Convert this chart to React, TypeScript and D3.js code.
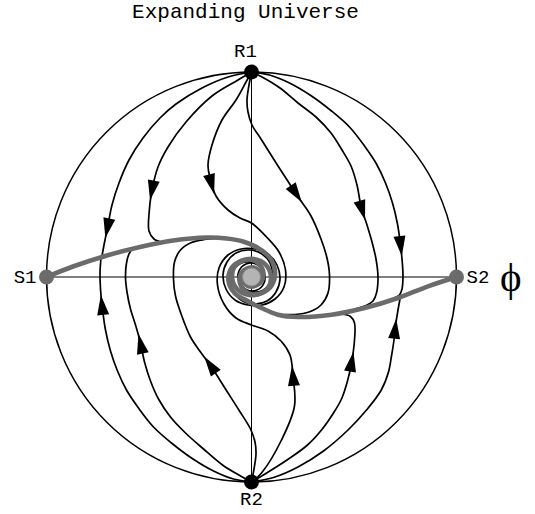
import React, { useEffect, useRef } from "react";
import * as d3 from "d3";

type Pt = [number, number];

const WIDTH = 535;
const HEIGHT = 514;
const TITLE = "Expanding Universe";
const AXIS_LABEL = "\u03D5";

// Compactified phase plane: the boundary circle sits at radius 205.
const DISK_RADIUS = 205;

// Trajectories leaving the kinetic point R1 (top of the disk)
const fromR1_outerLeft: Pt[] = [[0,205],[-23.5,200],[-49.5,189],[-75.5,173],[-91.5,159],[-108.5,139],[-122.5,117],[-132.5,94],[-139.5,72],[-143.5,52],[-147.5,32],[-149.5,21]];
const fromR1_midLeft: Pt[] = [[0,205],[-13.5,197],[-39.5,181],[-65.5,155],[-83.5,130],[-93.5,110],[-99.5,87],[-102.5,63],[-102.5,46],[-97.5,38],[-88.5,34.5]];
const fromR1_innerLeft: Pt[] = [[0,205],[-5.5,195],[-15.5,177],[-29.5,157],[-39.5,132],[-43.5,112],[-41.5,99],[-35.5,81],[-23.5,67],[-11.5,59],[0,54],[15,40],[27.5,25],[34,7],[32.5,-10],[23.5,-22],[10.5,-28],[-3.5,-28],[-16.5,-23],[-25.5,-12],[-28.5,2],[-24.5,15],[-15.5,24],[-2.5,27],[10.5,23],[18.5,14],[20.5,1],[15.5,-10],[5.5,-15],[-5.5,-13],[-12.5,-5],[-12.5,6],[-5.5,13],[4.5,13],[10.5,6],[8.5,-4],[0.5,-6]];
const fromR1_innerRight: Pt[] = [[0,205],[-2.5,192],[-4.5,177],[-3.5,165],[0.5,152],[9.5,138],[26.5,111],[39.5,91],[49.5,76],[59.5,61],[69.5,38],[75.5,19],[78,2],[76.5,-16],[69.5,-28],[57.5,-35],[43.5,-37.5],[33.5,-37.5]];
const fromR1_midRight: Pt[] = [[0,205],[10.5,200],[28.5,189],[46.5,174],[64.5,160],[79.5,144],[90.5,127],[99.5,111],[105.5,92],[109.5,71],[115.5,52],[120.5,35],[124.5,18],[126.5,0],[125,-16],[121.5,-24],[114.5,-28.5],[103.5,-32]];
const fromR1_outerRight: Pt[] = [[0,205],[18,202],[38,194],[60,181],[80,166],[98,150],[113,131],[125,113],[134,94],[141,74],[146,53],[149,32],[151,12],[151.5,0],[150.5,-12],[148,-18],[142.5,-21]];

// Trajectories leaving the kinetic point R2 (bottom of the disk)
const fromR2_outerLeft: Pt[] = [[0,-205],[-18,-202],[-38,-194],[-60,-181],[-80,-166],[-98,-150],[-113,-131],[-125,-113],[-134,-94],[-141,-74],[-146,-53],[-149,-32],[-151,-12],[-151.5,4],[-150.5,19]];
const fromR2_midLeft: Pt[] = [[0,-205],[-11,-199],[-29,-188],[-48,-172],[-66,-156],[-81,-140],[-93,-122],[-101,-104],[-107,-85],[-111,-66],[-116,-48],[-121,-32],[-124.5,-15],[-126,0],[-125,14],[-122.5,23],[-119,28],[-110,30.5]];
const fromR2_innerLeft: Pt[] = [[0,-205],[2.5,-192],[4.5,-177],[3.5,-165],[-1,-152],[-12,-134],[-26,-112],[-40,-90],[-51,-75],[-61,-60],[-70,-38],[-76,-19],[-78,-2],[-77,15],[-71,27],[-60,34.5],[-47,37.5],[-37,38.5]];
const fromR2_innerRight: Pt[] = [[0,-205],[10,-196],[30,-163],[43,-129],[41.5,-99],[38.5,-78],[29.5,-64],[16.5,-54],[0,-48],[-15.5,-41],[-27.5,-27],[-34,-8],[-32.5,9],[-23.5,22],[-10.5,28],[3.5,28],[16.5,23],[25.5,12],[28.5,-2],[24.5,-15],[15.5,-24],[2.5,-27],[-10.5,-23],[-18.5,-14],[-20.5,-1],[-15.5,10],[-5.5,15],[5.5,13],[12.5,5],[12.5,-6],[5.5,-13],[-4.5,-13],[-10.5,-6],[-8.5,4],[-0.5,6]];
const fromR2_midRight: Pt[] = [[0,-205],[13.5,-197],[37,-182],[56,-168],[70,-153],[82,-136],[90,-122],[96,-104],[100,-86],[103,-63],[103,-46],[99,-39.5],[90,-37]];
const fromR2_outerRight: Pt[] = [[0,-205],[22,-200.5],[46.5,-190],[72,-174],[96.5,-153],[115,-133],[129.8,-113],[137,-95],[140,-79],[142.5,-63],[144,-49],[146.5,-33],[148.5,-22]];

// Slow-roll attractors from S1 and S2 spiralling into the origin
const slowRollS1: Pt[] = [[-205,0],[-178.5,10.5],[-144.5,21.5],[-111.5,30],[-78.5,36.5],[-44.5,39.5],[-24.5,38.5],[-8.5,35.5],[6.5,29],[18.5,19],[23.5,6],[20.5,-8],[10.5,-16],[-2.5,-18],[-14.5,-12],[-19.5,0],[-16.5,11],[-7.5,17],[3.5,16],[10.5,9],[11.5,-1],[5.5,-8],[-3.5,-9],[-8.5,-3],[-6.5,5],[0.5,7]];
const slowRollS2: Pt[] = [[205,0],[176.5,-9.3],[146.5,-21],[113,-31],[80,-37.7],[46.5,-40],[26.5,-37.7],[10,-31],[-3.5,-24.3],[-17,-16],[-23,-4],[-20,9],[-10,16],[2.5,18],[14.5,12],[19.5,0],[16.5,-11],[7.5,-17],[-3.5,-16],[-10.5,-9],[-11.5,1],[-5.5,8],[3.5,9],[8.5,3],[6.5,-5],[-0.5,-7]];

const trajectories: Pt[][] = [
  fromR1_outerLeft, fromR1_midLeft, fromR1_innerLeft,
  fromR1_innerRight, fromR1_midRight, fromR1_outerRight,
  fromR2_outerLeft, fromR2_midLeft, fromR2_innerLeft,
  fromR2_innerRight, fromR2_midRight, fromR2_outerRight,
];
// Height (vertical coordinate) at which each trajectory carries its direction arrow
const arrowLevels: number[] = [50, 88, 94, 84, 68, 32, -29, -68, -89, -100, -86, -53];

const attractors: Pt[][] = [slowRollS1, slowRollS2];

const fixedPoints = [
  { name: "R1", at: [0, 205] as Pt, kind: "kinetic" },
  { name: "R2", at: [0, -205] as Pt, kind: "kinetic" },
  { name: "S1", at: [-205, 0] as Pt, kind: "slowroll" },
  { name: "S2", at: [205, 0] as Pt, kind: "slowroll" },
];

export default function App() {
  const ref = useRef<SVGSVGElement>(null);

  useEffect(() => {
    const svg = d3.select(ref.current);
    svg.selectAll("*").remove();

    const x = d3.scaleLinear().domain([-DISK_RADIUS, DISK_RADIUS]).range([46.5, 456.5]);
    const y = d3.scaleLinear().domain([-DISK_RADIUS, DISK_RADIUS]).range([482, 72]);
    const line = d3
      .line<Pt>()
      .x((d) => x(d[0]))
      .y((d) => y(d[1]))
      .curve(d3.curveCatmullRom.alpha(0.5));

    svg.append("rect").attr("width", WIDTH).attr("height", HEIGHT).attr("fill", "#fff");

    // phi and phi-dot axes
    svg.append("line")
      .attr("x1", x(-DISK_RADIUS)).attr("x2", x(DISK_RADIUS))
      .attr("y1", y(0)).attr("y2", y(0))
      .attr("stroke", "#000").attr("stroke-width", 1);
    svg.append("line")
      .attr("x1", x(0)).attr("x2", x(0))
      .attr("y1", y(-DISK_RADIUS)).attr("y2", y(DISK_RADIUS))
      .attr("stroke", "#000").attr("stroke-width", 1);

    // boundary at infinity
    svg.append("circle")
      .attr("cx", x(0)).attr("cy", y(0))
      .attr("r", x(DISK_RADIUS) - x(0))
      .attr("fill", "none").attr("stroke", "#000").attr("stroke-width", 1.5);

    const curves = svg.append("g");
    const heads = svg.append("g");

    trajectories.forEach((pts, i) => {
      const path = curves.append("path")
        .attr("d", line(pts))
        .attr("fill", "none")
        .attr("stroke", "#000")
        .attr("stroke-width", 1.7)
        .attr("stroke-linejoin", "round");
      const node = path.node() as SVGPathElement;
      const total = node.getTotalLength();
      const target = y(arrowLevels[i]);
      let at = total / 2;
      let prev = node.getPointAtLength(0);
      for (let l = 1; l <= total; l += 0.5) {
        const q = node.getPointAtLength(l);
        if ((prev.y - target) * (q.y - target) <= 0) { at = l; break; }
        prev = q;
      }
      const a = node.getPointAtLength(Math.max(0, at - 4));
      const b = node.getPointAtLength(Math.min(total, at + 4));
      const c = node.getPointAtLength(at);
      const ang = (Math.atan2(b.y - a.y, b.x - a.x) * 180) / Math.PI;
      heads.append("path")
        .attr("d", "M11,0 L-9,-6 L-9,6 Z")
        .attr("transform", `translate(${c.x},${c.y}) rotate(${ang})`)
        .attr("fill", "#000");
    });

    attractors.forEach((pts) => {
      curves.append("path")
        .attr("d", line(pts))
        .attr("fill", "none")
        .attr("stroke", "#6b6b6b")
        .attr("stroke-width", 4.6)
        .attr("stroke-linecap", "round")
        .attr("stroke-linejoin", "round");
    });

    // stable focus at the origin
    svg.append("circle")
      .attr("cx", x(0)).attr("cy", y(0)).attr("r", 9)
      .attr("fill", "#b4b4b4").attr("stroke", "#8a8a8a").attr("stroke-width", 1);

    fixedPoints.forEach((p) => {
      svg.append("circle")
        .attr("cx", x(p.at[0])).attr("cy", y(p.at[1])).attr("r", 7.5)
        .attr("fill", p.kind === "kinetic" ? "#000" : "#6b6b6b");
    });

    const mono = "'Liberation Mono', 'DejaVu Sans Mono', monospace";
    svg.append("text")
      .attr("x", 245.5).attr("y", 18)
      .attr("text-anchor", "middle")
      .attr("font-family", mono).attr("font-size", 21)
      .attr("fill", "#000")
      .text(TITLE);

    const labelPos: Record<string, { dx: number; dy: number; anchor: string }> = {
      R1: { dx: -6, dy: -15, anchor: "middle" },
      R2: { dx: 0, dy: 23, anchor: "middle" },
      S1: { dx: -10, dy: 6, anchor: "end" },
      S2: { dx: 10, dy: 6, anchor: "start" },
    };
    fixedPoints.forEach((p) => {
      const lp = labelPos[p.name];
      svg.append("text")
        .attr("x", x(p.at[0]) + lp.dx)
        .attr("y", y(p.at[1]) + lp.dy)
        .attr("text-anchor", lp.anchor)
        .attr("font-family", mono).attr("font-size", 19)
        .attr("fill", "#000")
        .text(p.name);
    });

    svg.append("text")
      .attr("x", 500).attr("y", 291)
      .attr("font-family", "'Liberation Serif', 'DejaVu Serif', serif")
      .attr("font-size", 41)
      .attr("fill", "#000")
      .text(AXIS_LABEL);
  }, []);

  return (
    <svg
      ref={ref}
      width={WIDTH}
      height={HEIGHT}
      style={{ position: "absolute", left: 0, top: 0, display: "block" }}
    />
  );
}
